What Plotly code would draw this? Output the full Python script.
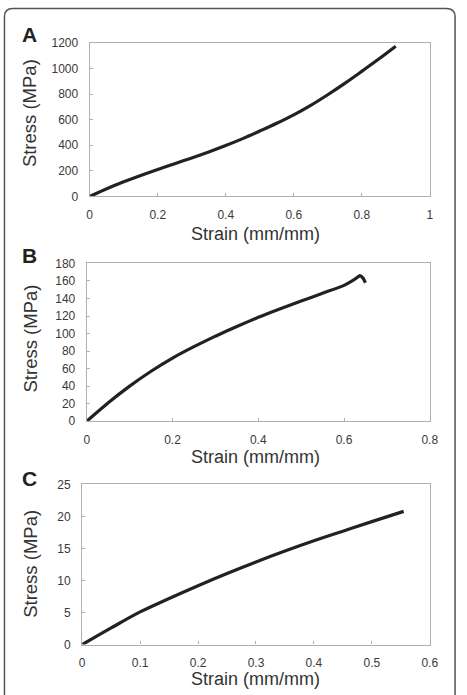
import plotly.graph_objects as go

# Panel A
strain_a = [0, 0.05, 0.1, 0.15, 0.2, 0.25, 0.3, 0.35, 0.4, 0.45, 0.5, 0.55, 0.6, 0.65, 0.7, 0.75, 0.8, 0.85, 0.9]
stress_a = [0, 60, 114, 164, 211, 256, 301, 348, 398, 452, 511, 572, 638, 712, 795, 884, 978, 1074, 1174]
# Panel B
strain_b = [0, 0.05, 0.1, 0.15, 0.2, 0.25, 0.3, 0.35, 0.4, 0.45, 0.5, 0.55, 0.6, 0.615, 0.628, 0.637, 0.644, 0.65]
stress_b = [0, 21, 40, 57, 72, 85, 97, 108, 118.5, 128, 137, 146, 155, 159, 163, 166, 163.5, 158]
# Panel C
strain_c = [0, 0.05, 0.1, 0.15, 0.2, 0.25, 0.3, 0.35, 0.4, 0.45, 0.5, 0.555]
stress_c = [0, 2.6, 5.1, 7.2, 9.2, 11.1, 12.9, 14.6, 16.2, 17.7, 19.2, 20.8]

xticks_a = [0, 0.2, 0.4, 0.6, 0.8, 1]
yticks_a = [0, 200, 400, 600, 800, 1000, 1200]
xticks_b = [0, 0.2, 0.4, 0.6, 0.8]
yticks_b = [0, 20, 40, 60, 80, 100, 120, 140, 160, 180]
xticks_c = [0, 0.1, 0.2, 0.3, 0.4, 0.5, 0.6]
yticks_c = [0, 5, 10, 15, 20, 25]

W, H = 467, 695
FONT = "Liberation Sans, Arial, sans-serif"
LINE = "#222222"

fig = go.Figure()
fig.add_trace(go.Scatter(x=strain_a, y=stress_a, mode="lines", line=dict(color=LINE, width=3.2, shape="spline", smoothing=1.0), xaxis="x", yaxis="y"))
fig.add_trace(go.Scatter(x=strain_b, y=stress_b, mode="lines", line=dict(color=LINE, width=3.2, shape="spline", smoothing=0.5), xaxis="x2", yaxis="y2"))
fig.add_trace(go.Scatter(x=strain_c, y=stress_c, mode="lines", line=dict(color=LINE, width=3.2, shape="spline", smoothing=1.0), xaxis="x3", yaxis="y3"))

def px_x(p):
    return p / W

def px_y(p):
    return 1 - p / H

panels = [
    # left px, top px, bottom px, xrange, yrange, xticks, yticks
    (89, 36.7, 193.3, [0, 1], [0, 1200], xticks_a, yticks_a),
    (86, 261.7, 422.7, [0, 0.8], [0, 180], xticks_b, yticks_b),
    (81.3, 487.3, 650.7, [0, 0.6], [0, 25], xticks_c, yticks_c),
]

axis_common = dict(
    showline=True, linecolor="#b0b0b0", linewidth=1.3, mirror=True,
    showgrid=False, zeroline=False, ticks="inside", ticklen=3, tickcolor="#b0b0b0",
    tickfont=dict(family=FONT, size=12, color="#3a3a3a"),
)

layout = dict(
    width=W, height=H, margin=dict(l=0, r=0, t=0, b=0),
    paper_bgcolor="white", plot_bgcolor="white", showlegend=False,
)
for i, (lft, top, bot, xr, yr, xt, yt) in enumerate(panels):
    sx = "" if i == 0 else str(i + 1)
    layout["xaxis" + sx] = dict(
        axis_common, domain=[px_x(lft), px_x(438)], range=xr, tickvals=xt,
        ticktext=[f"{v:g}" for v in xt], anchor="y" + sx, ticklabelstandoff=7,
    )
    layout["yaxis" + sx] = dict(
        axis_common, domain=[px_y(bot), px_y(top)], range=yr, tickvals=yt,
        ticktext=[f"{v:g}" for v in yt], anchor="x" + sx, ticklabelstandoff=8,
    )
fig.update_layout(**layout)

ann = []
common = dict(xref="paper", yref="paper", showarrow=False, xanchor="center", yanchor="middle")
for letter, ly, sy, xy in [("A", 28, 108, 232), ("B", 254, 338, 459), ("C", 481, 568, 686)]:
    ann.append(dict(common, text="<b>" + letter + "</b>", x=px_x(27), y=px_y(ly),
                    font=dict(family=FONT, size=21, color="#222")))
    ann.append(dict(common, text="Stress (MPa)", x=px_x(28), y=px_y(sy), textangle=-90,
                    font=dict(family=FONT, size=18.5, color="#333")))
    ann.append(dict(common, text="Strain (mm/mm)", x=px_x(259), y=px_y(xy),
                    font=dict(family=FONT, size=18, color="#333")))
fig.update_layout(annotations=ann)

fig.add_shape(type="path", xref="paper", yref="paper",
              path=f"M {px_x(1.5)},{px_y(705)} L {px_x(1.5)},{px_y(10)} Q {px_x(1.5)},{px_y(1.5)} {px_x(10)},{px_y(1.5)} "
                   f"L {px_x(455)},{px_y(1.5)} Q {px_x(464)},{px_y(1.5)} {px_x(464)},{px_y(10)} L {px_x(464)},{px_y(705)}",
              line=dict(color="#555555", width=1.5))

fig.write_html("out.html")
